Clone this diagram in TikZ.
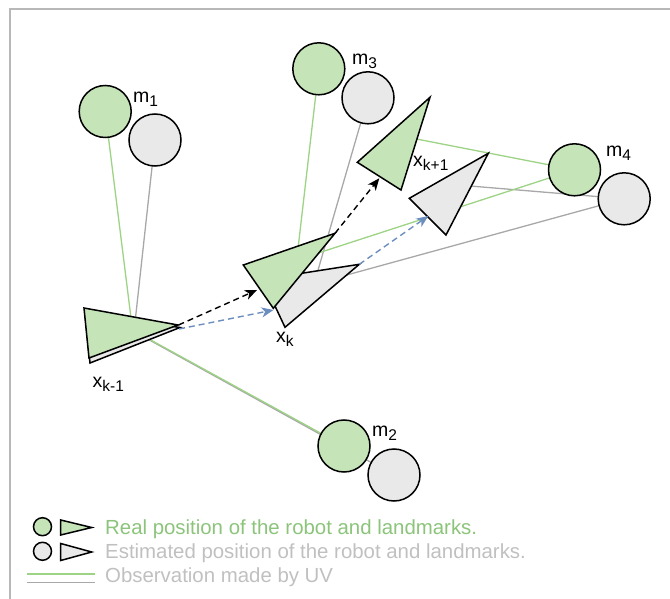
\documentclass[tikz,border=0pt]{standalone}
\usepackage{fontspec}
\setmainfont{Liberation Sans}
\usetikzlibrary{arrows.meta}
\definecolor{gfill}{HTML}{C5E4B8}
\definecolor{efill}{HTML}{E9E9E9}
\definecolor{gline}{HTML}{9DD384}
\definecolor{eline}{HTML}{A8A8A8}
\definecolor{gtext}{HTML}{8BC47A}
\definecolor{etext}{HTML}{C0C0C0}
\definecolor{bluearr}{HTML}{6C8EBF}
\definecolor{frame}{HTML}{B8B8B8}
\newcommand\subl[2]{#1\raisebox{-4pt}{\fontsize{15.5}{15.5}\selectfont #2}}
\begin{document}
\begin{tikzpicture}[x=1pt,y=-1pt,
  lmk/.style={circle, draw=black, line width=1.5pt, minimum size=52pt, inner sep=0pt},
  realc/.style={lmk, fill=gfill},
  estc/.style={lmk, fill=efill},
  legc/.style={circle, draw=black, line width=1.5pt, minimum size=18pt, inner sep=0pt},
  robo/.style={draw=black, line width=1.5pt, line join=miter},
  obsg/.style={draw=gline, line width=1.3pt},
  obse/.style={draw=eline, line width=1.3pt},
  motionblk/.style={draw=black, line width=1.4pt, dash pattern=on 6pt off 4pt, -{Stealth[length=12pt,width=10pt,inset=3.5pt]}},
  motionblu/.style={draw=bluearr, line width=1.4pt, dash pattern=on 6pt off 4pt, -{Stealth[length=12pt,width=10pt,inset=3.5pt]}},
  lbl/.style={anchor=base west, inner sep=0pt, font=\fontsize{19.5}{19.5}\selectfont},
  legtxt/.style={anchor=base west, inner sep=0pt, font=\fontsize{20.4}{20.4}\selectfont}
]
\useasboundingbox (0,0) rectangle (670,599);
% frame
\coordinate (fbl) at (10,599);
\coordinate (ftl) at (10,9.5);
\coordinate (ftr) at (670,9.5);
\draw[frame, line width=2pt] (fbl) -- (ftl) -- (ftr);

% landmarks (positions)
\coordinate (m1gc) at (105.2,111.5);
\coordinate (m1ec) at (155,140);
\coordinate (m2gc) at (344,446);
\coordinate (m2ec) at (394,475);
\coordinate (m3gc) at (318.8,68.8);
\coordinate (m3ec) at (368,97.8);
\coordinate (m4gc) at (574.5,169.8);
\coordinate (m4ec) at (624.2,198.8);

% robot poses: centres and vertices
\coordinate (r1g) at (132.5,330);
\coordinate (r1ga) at (84,308);  \coordinate (r1gt) at (178,325);  \coordinate (r1gb) at (89,358);
\coordinate (r1e) at (134,331.5);
\coordinate (r1ea) at (85,313);  \coordinate (r1et) at (180,327.5); \coordinate (r1eb) at (90,363);
\coordinate (r2g) at (296.7,260);
\coordinate (r2ga) at (243.3,265); \coordinate (r2gt) at (335,233.3); \coordinate (r2gb) at (273.3,308.3);
\coordinate (r2e) at (314,284);
\coordinate (r2ea) at (262.5,279.4); \coordinate (r2et) at (359.3,264.3); \coordinate (r2eb) at (285,327.3);
\coordinate (r3g) at (404.6,136.7);
\coordinate (r3ga) at (357.3,162.3); \coordinate (r3gt) at (430,97.3); \coordinate (r3gb) at (401,190);
\coordinate (r3e) at (458,185);
\coordinate (r3ea) at (409.3,198.3); \coordinate (r3et) at (488.3,153.3); \coordinate (r3eb) at (446,235);

% observations
\draw[obse] (m1ec) -- (r1e);
\draw[obse] (m2ec) -- (r1e);
\draw[obse] (m3ec) -- (r2e);
\draw[obse] (m4ec) -- (r2e);
\draw[obse] (m4ec) -- (r3e);
\draw[obsg] (m1gc) -- (r1g);
\draw[obsg] (m2gc) -- (r1g);
\draw[obsg] (m3gc) -- (r2g);
\draw[obsg] (m4gc) -- (r2g);
\draw[obsg] (m4gc) -- (r3g);

% landmark circles
\node[realc] (m1g) at (m1gc) {};
\node[estc]  (m1e) at (m1ec) {};
\node[realc] (m2g) at (m2gc) {};
\node[estc]  (m2e) at (m2ec) {};
\node[realc] (m3g) at (m3gc) {};
\node[estc]  (m3e) at (m3ec) {};
\node[realc] (m4g) at (m4gc) {};
\node[estc]  (m4e) at (m4ec) {};

% robot triangles
\filldraw[robo, fill=efill] (r1ea) -- (r1et) -- (r1eb) -- cycle;
\filldraw[robo, fill=gfill] (r1ga) -- (r1gt) -- (r1gb) -- cycle;
\filldraw[robo, fill=efill] (r2ea) -- (r2et) -- (r2eb) -- cycle;
\filldraw[robo, fill=gfill] (r2ga) -- (r2gt) -- (r2gb) -- cycle;
\filldraw[robo, fill=efill] (r3ea) -- (r3et) -- (r3eb) -- cycle;
\filldraw[robo, fill=gfill] (r3ga) -- (r3gt) -- (r3gb) -- cycle;

% motion arrows
\coordinate (a1s) at (178.5,325);  \coordinate (a1e) at (257,290);
\coordinate (b1s) at (179,329);    \coordinate (b1e) at (273.5,310);
\coordinate (a2e) at (379.3,178.3);
\coordinate (b2e) at (428.3,216);
\draw[motionblk] (a1s) -- (a1e);
\draw[motionblu] (b1s) -- (b1e);
\draw[motionblk] (r2gt) -- (a2e);
\draw[motionblu] (r2et) -- (b2e);

% labels
\node[lbl] (l1) at (133,103) {\subl{m}{1}};
\node[lbl] (l3) at (352,65) {\subl{m}{3}};
\node[lbl] (l4) at (606,157) {\subl{m}{4}};
\node[lbl] (l2) at (372,436) {\subl{m}{2}};
\node[lbl] (lx1) at (92.5,387) {\subl{x}{k-1}};
\node[lbl] (lx2) at (276,342) {\subl{x}{k}};
\node[lbl] (lx3) at (413,167) {\subl{x}{k+1}};

% legend
\node[legc, fill=gfill] (lgc1) at (42.5,526.7) {};
\coordinate (lt1a) at (60.7,520); \coordinate (lt1t) at (91.7,527.5); \coordinate (lt1b) at (60.7,535);
\filldraw[robo, fill=gfill] (lt1a) -- (lt1t) -- (lt1b) -- cycle;
\node[legc, fill=efill] (lgc2) at (42.5,551.3) {};
\coordinate (lt2a) at (60.7,543.5); \coordinate (lt2t) at (91.7,552); \coordinate (lt2b) at (60.7,560.5);
\filldraw[robo, fill=efill] (lt2a) -- (lt2t) -- (lt2b) -- cycle;
\coordinate (lg1s) at (26.7,574); \coordinate (lg1e) at (95,574);
\coordinate (lg2s) at (26.7,582.3); \coordinate (lg2e) at (95,582.3);
\draw[obsg] (lg1s) -- (lg1e);
\draw[obse] (lg2s) -- (lg2e);
\node[legtxt, text=gtext] (t1) at (105,534.5) {Real position of the robot and landmarks.};
\node[legtxt, text=etext] (t2) at (105,558.5) {Estimated position of the robot and landmarks.};
\node[legtxt, text=etext] (t3) at (105,582.5) {Observation made by UV};
\end{tikzpicture}
\end{document}
